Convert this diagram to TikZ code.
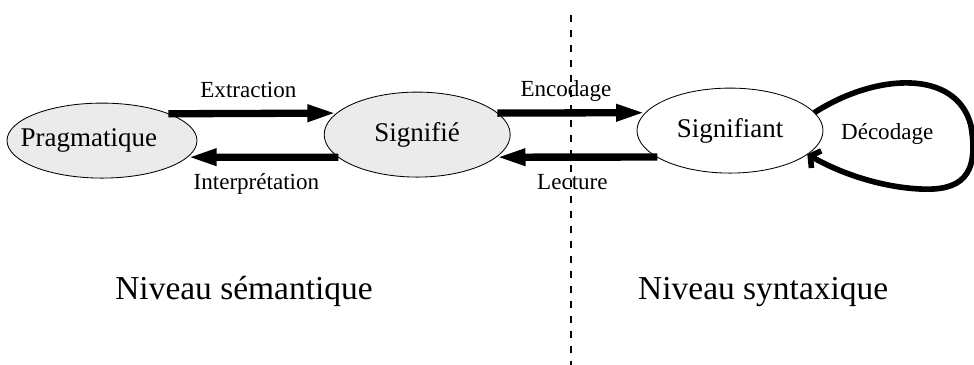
\documentclass[tikz,border=0pt]{standalone}
\usepackage{fontspec}
\setmainfont{Liberation Serif}
\usetikzlibrary{shapes.geometric,arrows.meta}

\begin{document}
\begin{tikzpicture}
  \tikzstyle{etat}=[ellipse,draw,line width=0.6pt,inner sep=0pt,outer sep=0pt,minimum width=4.65cm,minimum height=2.125cm,font=\fontsize{19.2}{22}\selectfont]
  \tikzstyle{fleche}=[line width=5.2pt,-{Triangle[length=21pt,width=11pt]}]
  \tikzstyle{boucle}=[line width=4pt,line join=round,-{Straight Barb[length=5pt,width=14pt]}]
  \tikzstyle{etiq}=[anchor=base,font=\fontsize{16.4}{19}\selectfont]
  \tikzstyle{niveau}=[anchor=base,font=\fontsize{23.8}{27}\selectfont]
  \useasboundingbox (0,0) rectangle (24.35,9.125);

  \node[etat,fill=black!8,minimum width=4.75cm,minimum height=1.875cm,
    label={[font=\fontsize{19.2}{22}\selectfont,xshift=-0.33cm]center:Pragmatique}] (Prag) at (2.55,5.61) {};
  \node[etat,fill=black!8] (Signifie) at (10.43,5.76) {Signifié};
  \node[etat,fill=white] (Signifiant) at (18.25,5.86) {Signifiant};

  \draw[fleche] (Prag.22) -- (Signifie.165);
  \draw[fleche] (Signifie.196) -- (Prag.-11);
  \draw[fleche] (Signifie.15) -- (Signifiant.168);
  \draw[fleche] (Signifiant.200) -- (Signifie.-16);

  \draw[boucle] (Signifiant.12) .. controls (21.9,7.3) and (23.9,7.4) .. (24.27,6.0)
    .. controls (24.5,4.7) and (24.0,4.35) .. (23.0,4.4)
    .. controls (22.0,4.45) and (21.0,4.8) .. (Signifiant.-17);

  \node[etiq] (ext) at (6.21,6.675) {Extraction};
  \node[etiq] (int) at (6.41,4.375) {Interprétation};
  \node[etiq] (enc) at (14.15,6.71) {Encodage};
  \node[etiq] (lec) at (14.31,4.375) {Lecture};
  \node[etiq] (dec) at (22.18,5.625) {Décodage};

  \node[niveau] (sem) at (6.1,1.625) {Niveau sémantique};
  \node[niveau] (syn) at (19.08,1.625) {Niveau syntaxique};

  \draw[line width=1pt,dash pattern=on 5pt off 5.7pt] (14.275,8.75) -- (14.275,0);
\end{tikzpicture}
\end{document}
